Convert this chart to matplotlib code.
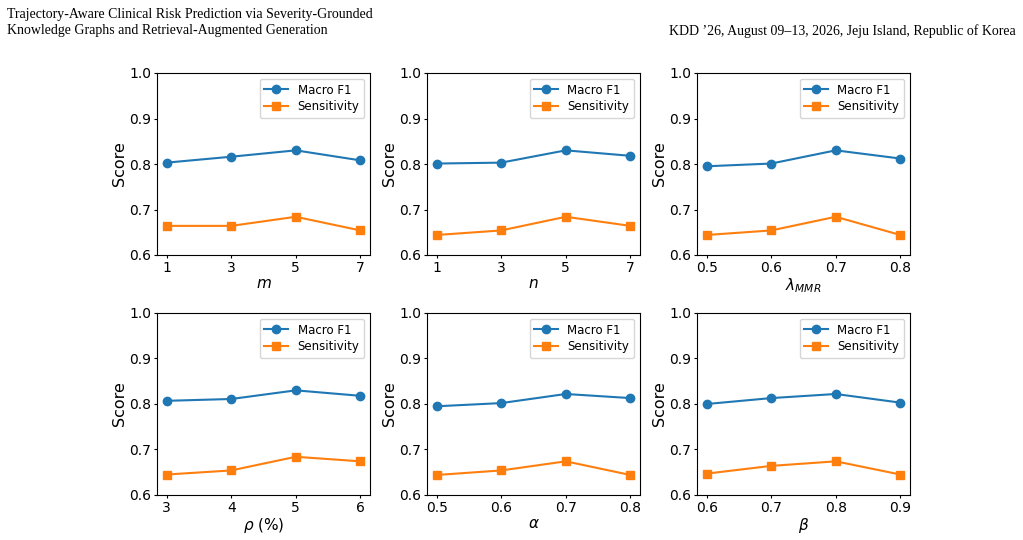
import matplotlib
matplotlib.use('Agg')
import matplotlib.pyplot as plt
import numpy as np

# parameter sweeps (x values) and scores
x_m = [1, 3, 5, 7]
f1_m = [0.803, 0.816, 0.830, 0.808]
sens_m = [0.664, 0.664, 0.684, 0.654]

x_n = [1, 3, 5, 7]
f1_n = [0.801, 0.803, 0.830, 0.818]
sens_n = [0.644, 0.654, 0.684, 0.664]

x_lam = [0.5, 0.6, 0.7, 0.8]
f1_lam = [0.795, 0.801, 0.830, 0.812]
sens_lam = [0.644, 0.654, 0.684, 0.644]

x_rho = [3, 4, 5, 6]
f1_rho = [0.807, 0.811, 0.830, 0.818]
sens_rho = [0.645, 0.654, 0.684, 0.674]

x_alpha = [0.5, 0.6, 0.7, 0.8]
f1_alpha = [0.795, 0.802, 0.822, 0.813]
sens_alpha = [0.644, 0.654, 0.674, 0.644]

x_beta = [0.6, 0.7, 0.8, 0.9]
f1_beta = [0.800, 0.813, 0.822, 0.803]
sens_beta = [0.647, 0.664, 0.674, 0.645]

xlabels = ['$m$', '$n$', r'$\lambda_{MMR}$', r'$\rho$ (%)', r'$\alpha$', r'$\beta$']

panels = [
    (x_m, f1_m, sens_m),
    (x_n, f1_n, sens_n),
    (x_lam, f1_lam, sens_lam),
    (x_rho, f1_rho, sens_rho),
    (x_alpha, f1_alpha, sens_alpha),
    (x_beta, f1_beta, sens_beta),
]

fig = plt.figure(figsize=(10.23, 5.40), dpi=100)

lefts = [157, 427, 697]
bottoms = [255, 495]
for i, (xs, f1, sens) in enumerate(panels):
    row, col = divmod(i, 3)
    ax = fig.add_axes([lefts[col] / 1023, 1 - bottoms[row] / 540, 213 / 1023, 182 / 540])
    ax.plot(xs, f1, marker='o', color='#1f77b4', label='Macro F1')
    ax.plot(xs, sens, marker='s', color='#ff7f0e', label='Sensitivity')
    ax.set_ylim(0.6, 1.0)
    ax.set_xticks(xs)
    ax.set_xticklabels([str(v) for v in xs])
    ax.set_yticks([0.6, 0.7, 0.8, 0.9, 1.0])
    ax.tick_params(labelsize=10, length=2.5, pad=1.5)
    ax.set_ylabel('Score', fontsize=11.5, labelpad=2)
    ax.set_xlabel(xlabels[i], fontsize=11, labelpad=1)
    ax.legend(loc='upper right', fontsize=8.5, labelspacing=0.3)

# page header
fig.text(0.007, 0.985, 'Trajectory-Aware Clinical Risk Prediction via Severity-Grounded',
         family='Liberation Serif', fontsize=10, va='top')
fig.text(0.007, 0.955, 'Knowledge Graphs and Retrieval-Augmented Generation',
         family='Liberation Serif', fontsize=10, va='top')
fig.text(0.993, 0.955, 'KDD \u201926, August 09\u201313, 2026, Jeju Island, Republic of Korea',
         family='Liberation Serif', fontsize=10, va='top', ha='right')

fig.savefig('out.png', dpi=100)
